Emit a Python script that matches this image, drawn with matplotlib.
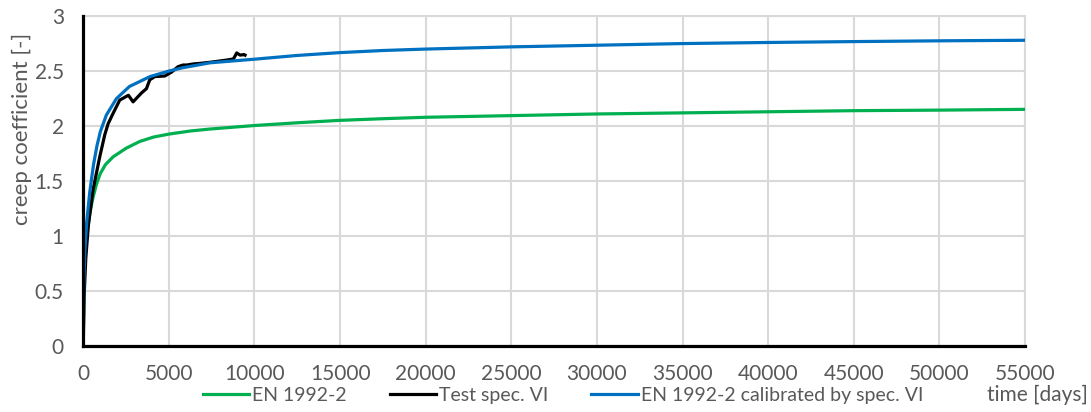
import matplotlib
matplotlib.use("Agg")
import matplotlib.pyplot as plt
from matplotlib.ticker import FormatStrFormatter, FuncFormatter

plt.rcParams["font.family"] = ["Lato", "DejaVu Sans"]

# EN 1992-2 (green)
t_en = [0, 30, 100, 200, 400, 570, 770, 1000, 1300, 1740, 2520, 3300, 4100, 5000, 6240, 7400,
        10000, 12500, 15000, 17500, 20000, 25000, 30000, 35000, 40000, 45000, 50000, 55000]
phi_en = [0, 0.5, 0.8, 1.0, 1.22, 1.35, 1.47, 1.57, 1.65, 1.72, 1.80, 1.86, 1.90, 1.927, 1.955, 1.973,
          2.005, 2.03, 2.052, 2.067, 2.08, 2.095, 2.11, 2.12, 2.13, 2.14, 2.145, 2.152]

# Test spec. VI (black)
t_test = [0, 50, 150, 300, 572, 963, 1255, 1450, 1741, 2130, 2520, 2640, 2910, 3395,
          3690, 3883, 4176, 4760, 5150, 5540, 5830, 6045, 6435, 6825,
          7408, 8380, 8770, 8965, 9160, 9394, 9450]
phi_test = [0, 0.45, 0.8, 1.1, 1.42, 1.72, 1.92, 2.02, 2.115, 2.236, 2.27, 2.28, 2.22, 2.30,
            2.34, 2.42, 2.45, 2.455, 2.49, 2.54, 2.555, 2.555, 2.565, 2.57,
            2.58, 2.6, 2.61, 2.665, 2.645, 2.65, 2.645]

# EN 1992-2 calibrated by spec. VI (blue)
t_cal = [0, 30, 100, 200, 380, 600, 800, 1000, 1350, 1940, 2700, 3900, 5000, 5800, 7400,
         10000, 12500, 15000, 17500, 20000, 25000, 30000, 35000, 40000, 45000, 50000, 55000]
phi_cal = [0, 0.55, 0.88, 1.12, 1.4, 1.65, 1.82, 1.95, 2.1, 2.25, 2.36, 2.45, 2.5, 2.53, 2.575,
           2.608, 2.642, 2.668, 2.687, 2.70, 2.72, 2.735, 2.75, 2.76, 2.768, 2.775, 2.78]

x_ticks = list(range(0, 55001, 5000))
y_ticks = [0, 0.5, 1, 1.5, 2, 2.5, 3]

grey = "#595959"
grid_c = "#d9d9d9"

fig = plt.figure(figsize=(10.91, 4.12), dpi=100)
ax = fig.add_axes([0.0763, 0.160, 0.8632, 0.801])

ax.plot(t_en, phi_en, color="#00b050", lw=2.3, label="EN 1992-2", zorder=3)
ax.plot(t_test, phi_test, color="black", lw=2.3, label="Test spec. VI", zorder=4)
ax.plot(t_cal, phi_cal, color="#0070c0", lw=2.3, label="EN 1992-2 calibrated by spec. VI", zorder=5)

ax.set_xlim(0, 55000)
ax.set_ylim(0, 3)
ax.set_xticks(x_ticks)
ax.set_yticks(y_ticks)
ax.yaxis.set_major_formatter(FuncFormatter(lambda v, p: f"{v:g}"))
ax.xaxis.set_major_formatter(FormatStrFormatter("%d"))
ax.tick_params(length=0, labelsize=15, labelcolor=grey)
ax.tick_params(axis="x", pad=13)
ax.tick_params(axis="y", pad=14)
ax.grid(True, color=grid_c, lw=1.5, zorder=0)
ax.set_axisbelow(True)

for s in ["top", "right"]:
    ax.spines[s].set_color(grid_c)
    ax.spines[s].set_linewidth(1.5)
for s in ["left", "bottom"]:
    ax.spines[s].set_color("black")
    ax.spines[s].set_linewidth(2.3)
    ax.spines[s].set_zorder(6)

fig.text(0.020, 1 - 129 / 412, "creep coefficient [-]", rotation=90, ha="center", va="center",
         fontsize=16, color=grey)

fig.legend(loc="center", bbox_to_anchor=(0.516, 0.041), ncol=3, frameon=False, fontsize=14,
           labelcolor=grey, handlelength=2.4, handletextpad=0.15, columnspacing=2.2,
           borderpad=0, borderaxespad=0)

fig.text(0.997, 0.041, "time [days]", ha="right", va="center", fontsize=15, color=grey)

fig.savefig("out.png", dpi=100, facecolor="white")
